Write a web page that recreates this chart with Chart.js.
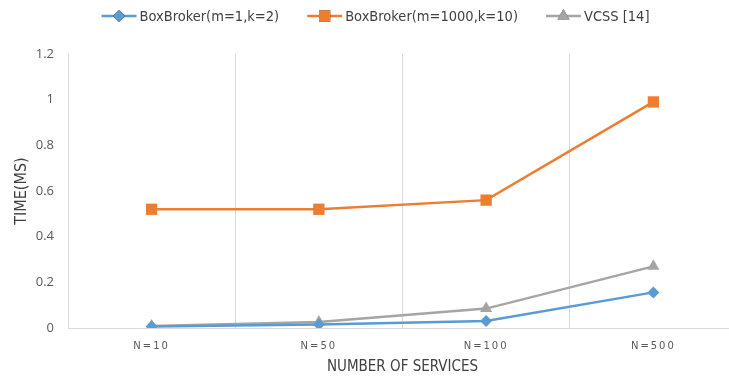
<!DOCTYPE html>
<html>
<head>
<meta charset="utf-8">
<script src="https://cdn.jsdelivr.net/npm/chart.js@4/dist/chart.umd.min.js"></script>
<style>
  html, body { margin: 0; padding: 0; background: #fff; overflow: hidden; }
  #c { display: block; }
</style>
</head>
<body>
<canvas id="c" width="745" height="379"></canvas>
<script>
// Categories and series values
const categories = ['N=10', 'N=50', 'N=100', 'N=500'];
const boxBrokerSmall = [0.007, 0.015, 0.031, 0.156];
const boxBrokerLarge = [0.52, 0.52, 0.56, 0.99];
const vcss = [0.009, 0.026, 0.085, 0.27];
const yTicks = [0, 0.2, 0.4, 0.6, 0.8, 1, 1.2];

const BLUE = '#5B9BD5', ORANGE = '#ED7D31', GRAY = '#A5A5A5';
const FONT = '"DejaVu Sans Condensed", "Liberation Sans", sans-serif';

function series(label, data, color, style, radius) {
  return {
    label, data,
    borderColor: color, backgroundColor: color,
    borderWidth: 2.5,
    pointStyle: style, pointRadius: radius, pointHoverRadius: radius,
    pointBorderWidth: 0,
    tension: 0
  };
}

// Legend row: line swatch with the series marker, then the label
const lineLegend = {
  id: 'lineLegend',
  afterDraw(chart) {
    const ctx = chart.ctx;
    const swatchW = 35, textGap = 3, itemGap = 28, y = 16;
    ctx.save();
    ctx.font = '14.5px ' + FONT;
    const items = chart.data.datasets.map(ds => ({ ds, w: swatchW + textGap + ctx.measureText(ds.label).width }));
    const total = items.reduce((s, it) => s + it.w, 0) + itemGap * (items.length - 1);
    let x = (chart.width - total) / 2 + 3;
    items.forEach(({ ds, w }) => {
      ctx.strokeStyle = ds.borderColor;
      ctx.lineWidth = 2.5;
      ctx.beginPath(); ctx.moveTo(x, y); ctx.lineTo(x + swatchW, y); ctx.stroke();
      Chart.helpers.drawPoint(ctx, {
        pointStyle: ds.pointStyle, radius: ds.pointRadius, borderWidth: 0, rotation: 0
      }, x + swatchW / 2, y);
      ctx.fillStyle = ds.borderColor;
      ctx.fill();
      ctx.fillStyle = '#404040';
      ctx.textBaseline = 'middle';
      ctx.textAlign = 'left';
      ctx.fillText(ds.label, x + swatchW + textGap, y + 1);
      x += w + itemGap;
    });
    ctx.restore();
  }
};

// Spaced-out category labels along the bottom axis
const spacedTicks = {
  id: 'spacedTicks',
  afterLayout(chart) {
    const s = chart.scales.x;
    if (s && !s._spaced) {
      const orig = s.drawLabels.bind(s);
      s.drawLabels = function (area) {
        this.ctx.save();
        this.ctx.letterSpacing = '2px';
        orig(area);
        this.ctx.restore();
      };
      s._spaced = true;
    }
  }
};

new Chart(document.getElementById('c'), {
  type: 'line',
  data: {
    labels: categories,
    datasets: [
      series('BoxBroker(m=1,k=2)', boxBrokerSmall, BLUE, 'rectRot', 6),
      series('BoxBroker(m=1000,k=10)', boxBrokerLarge, ORANGE, 'rect', 8),
      series('VCSS [14]', vcss, GRAY, 'triangle', 7)
    ]
  },
  plugins: [lineLegend, spacedTicks],
  options: {
    responsive: false,
    animation: false,
    devicePixelRatio: 1,
    layout: { padding: { left: 0, right: 6, top: 54, bottom: 0 } },
    plugins: {
      tooltip: { enabled: false },
      legend: { display: false }
    },
    scales: {
      x: {
        offset: true,
        afterFit(scale) { scale.height = 51; },
        grid: { offset: true, color: '#D9D9D9', lineWidth: 1, drawTicks: false },
        border: { color: '#D9D9D9' },
        ticks: { color: '#595959', font: { family: '"DejaVu Sans", sans-serif', size: 10 }, padding: 12 },
        title: { display: true, text: 'NUMBER OF SERVICES', color: '#404040',
                 font: { family: FONT, size: 15 }, padding: { top: 4, bottom: 3 } }
      },
      y: {
        min: 0, max: 1.2,
        afterBuildTicks(scale) { scale.ticks = yTicks.map(v => ({ value: v })); },
        afterFit(scale) { scale.width = 68; },
        grid: { display: false, drawTicks: false },
        border: { display: false },
        ticks: { color: '#595959', font: { family: '"Open Sans", sans-serif', size: 13 }, padding: 14,
                 callback: v => String(v) },
        title: { display: true, text: 'TIME(MS)', color: '#404040',
                 font: { family: FONT, size: 16 }, padding: { top: 12, bottom: 0 } }
      }
    }
  }
});
</script>
</body>
</html>
